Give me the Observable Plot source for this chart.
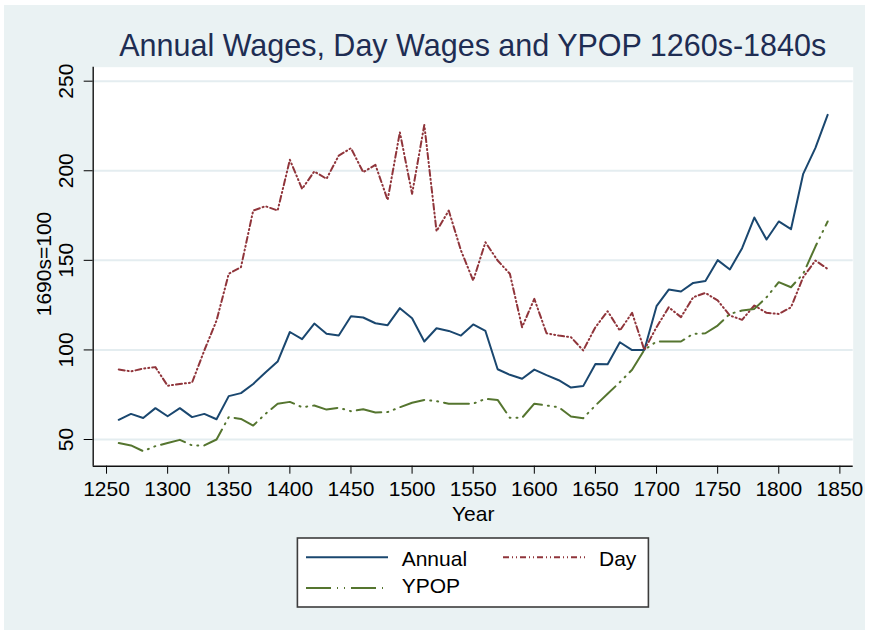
<!DOCTYPE html>
<html>
<head>
<meta charset="utf-8">
<script src="https://cdn.jsdelivr.net/npm/d3@7"></script>
<script src="https://cdn.jsdelivr.net/npm/@observablehq/plot@0.6"></script>
<style>
  html, body { margin: 0; padding: 0; background: #ffffff; }
  #page { position: relative; width: 869px; height: 635px; overflow: hidden; font-family: "Liberation Sans", Arial, sans-serif; }
  #panel { position: absolute; left: 4px; top: 5px; width: 861px; height: 625px; background: #eaf2f3; }
  #chart { position: absolute; left: 0; top: 0; }
  #overlay { position: absolute; left: 0; top: 0; }
</style>
</head>
<body>
<div id="page">
  <div id="panel"></div>
  <div id="chart"></div>
  <svg id="overlay" width="869" height="635"></svg>
</div>
<script>
// ---- data ----
const years = [
  1260, 1270, 1280, 1290, 1300, 1310, 1320, 1330, 1340, 1350,
  1360, 1370, 1380, 1390, 1400, 1410, 1420, 1430, 1440, 1450,
  1460, 1470, 1480, 1490, 1500, 1510, 1520, 1530, 1540, 1550,
  1560, 1570, 1580, 1590, 1600, 1610, 1620, 1630, 1640, 1650,
  1660, 1670, 1680, 1690, 1700, 1710, 1720, 1730, 1740, 1750,
  1760, 1770, 1780, 1790, 1800, 1810, 1820, 1830, 1840
];
const annual = [
  61, 64.3, 62, 67.5, 63, 67.5, 62.5, 64.3, 61.3, 74.2,
  75.9, 81, 87.4, 93.5, 110, 106, 114.7, 109, 108, 118.8,
  118.1, 114.9, 113.8, 123.3, 117.7, 104.7, 112.1, 110.6, 108, 114.2,
  110.6, 89.2, 86.1, 83.9, 89, 85.9, 83.1, 79, 79.8, 92.2,
  92, 104.3, 99.9, 100, 124.4, 133.7, 132.6, 137.4, 138.5, 150.1,
  144.9, 156.8, 173.9, 161.6, 171.7, 167.4, 198.3, 212.8, 231.2
];
const day = [
  89.1, 88, 89.6, 90.4, 80, 81, 81.8, 99.7, 116.4, 142.5,
  146.2, 177.8, 180.2, 177.8, 206.1, 189.9, 199.6, 195.5, 208.5, 212.6,
  199.2, 203.3, 183.7, 221.5, 187.1, 225.6, 166.3, 177.8, 155.5, 138.7,
  160.1, 149.9, 142.5, 112.7, 128.5, 109.3, 108, 107.1, 99.7, 112.7,
  121.6, 110.8, 120.7, 100, 112.7, 123.8, 118.3, 129.4, 131.8, 127.6,
  119.2, 116.8, 124.8, 120.7, 120.1, 123.8, 140.6, 149.9, 145.2
];
const ypop = [
  48, 46.7, 43.5, 46.3, 48, 49.8, 46.7, 46.7, 50, 62.5,
  61.5, 57.8, 64.3, 69.9, 71, 68, 69, 66.7, 67.7, 65.8,
  66.9, 65.1, 65.3, 68, 70.5, 72.1, 71.4, 70, 70, 70,
  72.7, 72.1, 62.1, 62.1, 70, 69, 68, 62.8, 61.9, 69,
  75.5, 82, 88.9, 100, 104.7, 104.7, 104.7, 109, 109.3, 113.6,
  120.1, 122, 122.9, 129.4, 137.8, 135, 142.5, 157.7, 171.7
];
const xTicks = [1250, 1300, 1350, 1400, 1450, 1500, 1550, 1600, 1650, 1700, 1750, 1800, 1850];
const yTicks = [50, 100, 150, 200, 250];
const seriesNames = ["Annual", "Day", "YPOP"];
const titleText = "Annual Wages, Day Wages and YPOP 1260s-1840s";
const xLabel = "Year";
const yLabel = "1690s=100";

// ---- styles ----
const colors = { Annual: "#1a476f", Day: "#90353b", YPOP: "#55752f" };
const dashes = { Annual: null, Day: "6,3,1,3,1,3", YPOP: "25,6,1,6,1,6" };

const rows = years.map((y, i) => ({ year: y, Annual: annual[i], Day: day[i], YPOP: ypop[i] }));

const xDomain = [1239.1, 1860.9];
const yDomain = [35.1, 257.8];
const FONT = "'Liberation Sans', Arial, Helvetica, sans-serif";

const chart = Plot.plot({
  width: 869,
  height: 530,
  marginTop: 66.7,
  marginLeft: 92.7,
  marginRight: 16.3,
  marginBottom: 64.3,
  x: { domain: xDomain },
  y: { domain: yDomain },
  style: { background: "transparent", fontFamily: FONT, fontSize: "21px", color: "#000", overflow: "visible" },
  marks: [
    Plot.frame({ fill: "white", stroke: "none" }),
    Plot.gridY(yTicks, { stroke: "#e4edf0", strokeOpacity: 1, strokeWidth: 2 }),
    Plot.axisX({ ticks: xTicks, tickSize: 8, tickPadding: 7, tickFormat: d => String(d), label: null, fontSize: 21, stroke: "#000" }),
    Plot.axisY({ ticks: yTicks, tickSize: 9, tickPadding: 11, tickRotate: -90, tickFormat: d => String(d), label: null, fontSize: 21 }),
    Plot.text([xLabel], { text: d => d, frameAnchor: "bottom", dy: 47.6, lineAnchor: "middle", fontSize: 21 }),
    Plot.ruleX([xDomain[0]], { stroke: "#111", strokeWidth: 1.4 }),
    Plot.ruleY([yDomain[0]], { stroke: "#111", strokeWidth: 1.4 }),
    ...seriesNames.map(name => Plot.line(rows, {
      x: "year", y: name,
      stroke: colors[name], strokeWidth: 2,
      strokeDasharray: dashes[name] || undefined,
      strokeLinejoin: "round"
    }))
  ]
});
document.getElementById("chart").appendChild(chart);

// ---- title, y label and legend (overlay) ----
const ov = d3.select("#overlay");
ov.append("text")
  .attr("x", 472.7).attr("y", 56)
  .attr("text-anchor", "middle")
  .attr("font-family", FONT).attr("font-size", 30.5)
  .attr("fill", "#1e2d53")
  .text(titleText);

ov.append("text")
  .attr("transform", "translate(43.5,264) rotate(-90)")
  .attr("text-anchor", "middle")
  .attr("dy", "0.35em")
  .attr("font-family", FONT).attr("font-size", 21)
  .attr("fill", "#000")
  .text(yLabel);

const lg = ov.append("g");
lg.append("rect")
  .attr("x", 297.4).attr("y", 538).attr("width", 351).attr("height", 69)
  .attr("fill", "#fff").attr("stroke", "#3c3c3c").attr("stroke-width", 1.6);

const legendItems = [
  { name: "Annual", x1: 306, x2: 388, ly: 557.3, tx: 401.7, ty: 566 },
  { name: "Day", x1: 503, x2: 585, ly: 557.3, tx: 599, ty: 566 },
  { name: "YPOP", x1: 306, x2: 388, ly: 588, tx: 401.7, ty: 592.7 }
];
legendItems.forEach(it => {
  lg.append("line")
    .attr("x1", it.x1).attr("x2", it.x2).attr("y1", it.ly).attr("y2", it.ly)
    .attr("stroke", colors[it.name]).attr("stroke-width", 2)
    .attr("stroke-dasharray", dashes[it.name]);
  lg.append("text")
    .attr("x", it.tx).attr("y", it.ty)
    .attr("font-family", FONT).attr("font-size", 21)
    .attr("fill", "#000")
    .text(it.name);
});
</script>
</body>
</html>
